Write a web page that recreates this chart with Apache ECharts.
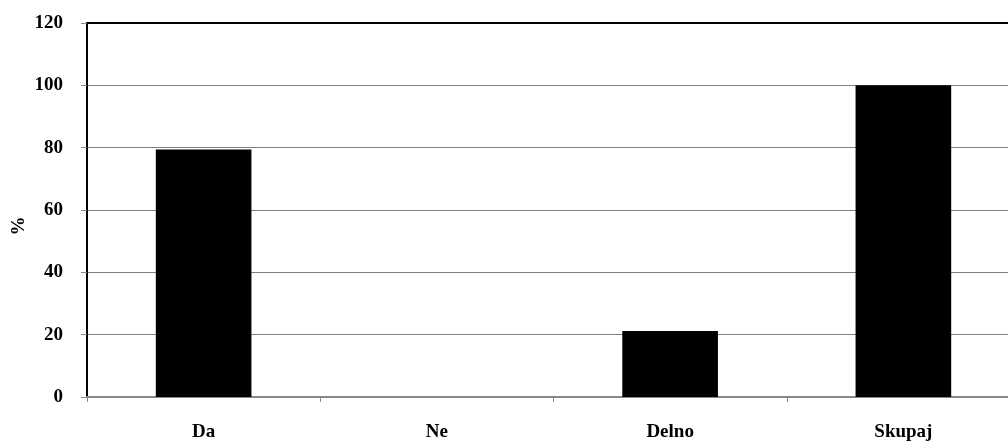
<!DOCTYPE html>
<html>
<head>
<meta charset="utf-8">
<script src="https://cdn.jsdelivr.net/npm/echarts@6/dist/echarts.min.js"></script>
<style>
  html, body { margin: 0; padding: 0; background: #fff; }
  #chart { width: 1008px; height: 444px; }
</style>
</head>
<body>
<div id="chart"></div>
<script>
// Answer categories and their shares (%)
const categories = ['Da', 'Ne', 'Delno', 'Skupaj'];
const shares = [79.4, 0, 21.2, 100];
const yTicks = [0, 20, 40, 60, 80, 100, 120];

const serif = '"Liberation Serif", "Times New Roman", serif';
const chart = echarts.init(document.getElementById('chart'), null, { renderer: 'canvas' });

chart.setOption({
  animation: false,
  backgroundColor: '#ffffff',
  grid: {
    left: 87, top: 23, bottom: 47, right: -12,
    containLabel: false,
    outerBoundsMode: 'none'
  },
  xAxis: [
    {
      type: 'category',
      data: categories,
      position: 'bottom',
      axisLine: { show: true, lineStyle: { color: '#888888', width: 2 } },
      axisTick: { show: true, length: 5, lineStyle: { color: '#888888', width: 1 } },
      axisLabel: {
        color: '#000', fontFamily: serif, fontWeight: 'bold', fontSize: 19, margin: 26
      }
    },
    {
      // plain frame line along the top of the plot
      type: 'category',
      data: categories,
      position: 'top',
      axisLine: { show: true, lineStyle: { color: '#000', width: 2 } },
      axisTick: { show: false },
      axisLabel: { show: false }
    }
  ],
  yAxis: {
    type: 'value',
    min: yTicks[0],
    max: yTicks[yTicks.length - 1],
    interval: yTicks[1] - yTicks[0],
    name: '%',
    nameLocation: 'middle',
    nameRotate: 90,
    nameGap: 58,
    nameMoveOverlap: false,
    nameTextStyle: {
      color: '#000', fontFamily: serif, fontWeight: 'bold', fontSize: 19,
      padding: [0, 32, 0, 0]
    },
    axisLine: { show: true, lineStyle: { color: '#000', width: 2 } },
    axisTick: { show: true, length: 6, lineStyle: { color: '#888888', width: 1 } },
    axisLabel: {
      color: '#000', fontFamily: serif, fontWeight: 'bold', fontSize: 19, margin: 24
    },
    splitLine: { show: true, lineStyle: { color: '#808080', width: 1 } }
  },
  series: [{
    type: 'bar',
    xAxisIndex: 0,
    data: shares,
    barWidth: '41%',
    itemStyle: { color: '#000000' }
  }]
});
</script>
</body>
</html>
